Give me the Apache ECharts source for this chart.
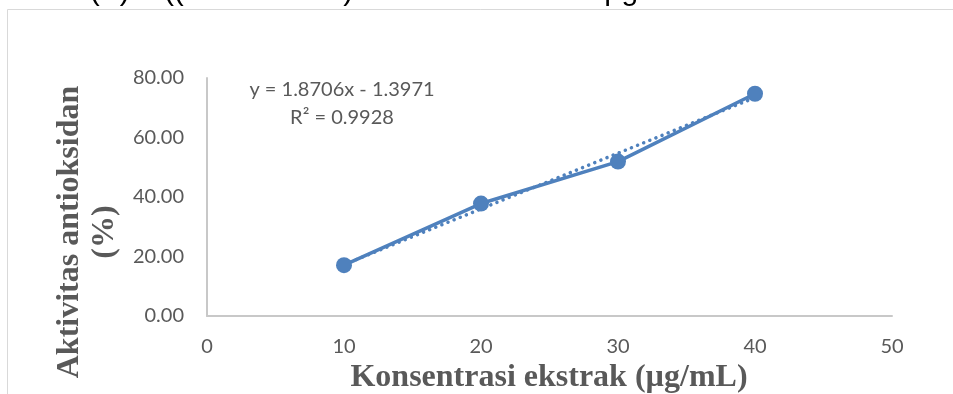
<!DOCTYPE html>
<html>
<head>
<meta charset="utf-8">
<script src="https://cdn.jsdelivr.net/npm/echarts@6/dist/echarts.min.js"></script>
<style>
  html, body { margin: 0; padding: 0; background: #fff; }
  #chart { width: 953px; height: 394px; }
</style>
</head>
<body>
<div id="chart"></div>
<script>
// Extract concentration (µg/mL) and measured antioxidant activity (%)
const concentrations = [10, 20, 30, 40];
const activity = [17.1, 37.8, 51.9, 74.7];

// Linear trendline coefficients as printed on the chart
const slope = 1.8706;
const intercept = -1.3971;
const rSquared = 0.9928;

const xTicks = [0, 10, 20, 30, 40, 50];
const yTicks = [0, 20, 40, 60, 80];

const TEXT_GRAY = '#595959';
const AXIS_GRAY = '#c8c8c8';
const BLUE = '#4f81bd';

const measured = concentrations.map((x, i) => [x, activity[i]]);
const trend = [
  [concentrations[0], slope * concentrations[0] + intercept],
  [concentrations[concentrations.length - 1], slope * concentrations[concentrations.length - 1] + intercept]
];

const chart = echarts.init(document.getElementById('chart'), null, { renderer: 'canvas' });

const titleFont = 'bold 32px "Liberation Serif"';

chart.setOption({
  animation: false,
  backgroundColor: '#ffffff',
  grid: { left: 207, right: 61, top: 78, bottom: 78, containLabel: false },
  xAxis: {
    type: 'value',
    min: xTicks[0],
    max: xTicks[xTicks.length - 1],
    interval: 10,
    axisLine: { show: true, lineStyle: { color: AXIS_GRAY, width: 2 } },
    axisTick: { show: false },
    splitLine: { show: false },
    axisLabel: { color: TEXT_GRAY, fontFamily: 'Lato', fontSize: 20, margin: 21 }
  },
  yAxis: {
    type: 'value',
    min: yTicks[0],
    max: yTicks[yTicks.length - 1],
    interval: 20,
    axisLine: { show: true, lineStyle: { color: AXIS_GRAY, width: 2 } },
    axisTick: { show: false },
    splitLine: { show: false },
    axisLabel: {
      color: TEXT_GRAY, fontFamily: 'Lato', fontSize: 20, margin: 23,
      formatter: v => v.toFixed(2)
    }
  },
  series: [
    {
      name: 'Linear trend',
      type: 'line',
      data: trend,
      symbol: 'none',
      lineStyle: { color: BLUE, width: 3.5, type: [0.1, 6.5], cap: 'round' },
      z: 2
    },
    {
      name: 'Aktivitas',
      type: 'line',
      data: measured,
      symbol: 'circle',
      symbolSize: 16,
      itemStyle: { color: BLUE },
      lineStyle: { color: BLUE, width: 3.5 },
      z: 3
    }
  ],
  graphic: [
    // chart frame
    {
      type: 'rect',
      shape: { x: 7.5, y: 9.5, width: 960, height: 400 },
      style: { fill: 'none', stroke: '#d9d9d9', lineWidth: 1 },
      silent: true
    },
    // caption line above the frame
    {
      type: 'text',
      x: 18,
      y: 7,
      style: {
        text: 'IC50 (X) = ((50 + 1.3971) / 1.8706 = 27.476 µg/mL',
        fill: '#000000',
        font: '30px "Liberation Sans"',
        verticalAlign: 'bottom'
      }
    },
    // axis titles
    {
      type: 'text',
      x: 549, y: 378,
      style: {
        text: 'Konsentrasi ekstrak (µg/mL)',
        fill: TEXT_GRAY, font: titleFont, align: 'center', verticalAlign: 'middle'
      }
    },
    {
      type: 'text',
      x: 87, y: 232,
      rotation: Math.PI / 2,
      style: {
        text: 'Aktivitas antioksidan\n(%)',
        fill: TEXT_GRAY, font: titleFont, lineHeight: 35,
        align: 'center', verticalAlign: 'middle'
      }
    },
    // trendline equation
    {
      type: 'text',
      x: 342, y: 90,
      style: {
        text: 'y = ' + slope.toFixed(4) + 'x - ' + Math.abs(intercept).toFixed(4),
        fill: TEXT_GRAY, font: '20px Lato', align: 'center', verticalAlign: 'middle'
      }
    },
    {
      type: 'text',
      x: 342, y: 118,
      style: {
        text: 'R² = ' + rSquared.toFixed(4),
        fill: TEXT_GRAY, font: '20px Lato', align: 'center', verticalAlign: 'middle'
      }
    }
  ]
});
</script>
</body>
</html>
